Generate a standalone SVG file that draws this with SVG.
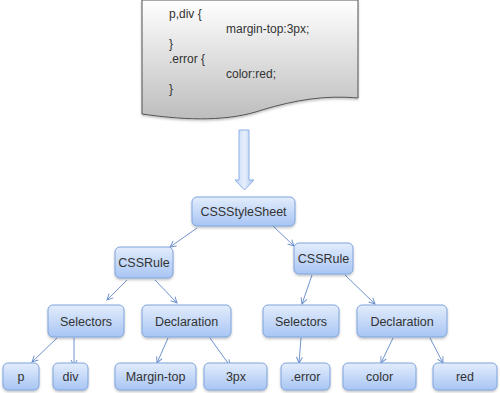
<svg xmlns="http://www.w3.org/2000/svg" width="500" height="393" viewBox="0 0 500 393">
<defs>
<linearGradient id="doc" x1="0" y1="0" x2="0" y2="1">
<stop offset="0" stop-color="#ffffff"/>
<stop offset="1" stop-color="#bdbdbd"/>
</linearGradient>
<linearGradient id="node" x1="0" y1="0" x2="0" y2="1">
<stop offset="0" stop-color="#e3edfc"/>
<stop offset="1" stop-color="#a8c5f4"/>
</linearGradient>
<linearGradient id="barrow" x1="0" y1="0" x2="1" y2="0">
<stop offset="0" stop-color="#c2d6f7"/>
<stop offset="0.5" stop-color="#e6eefc"/>
<stop offset="1" stop-color="#aac6f3"/>
</linearGradient>
<filter id="sh" x="-20%" y="-20%" width="140%" height="150%">
<feDropShadow dx="0" dy="1.5" stdDeviation="1.2" flood-color="#000" flood-opacity="0.25"/>
</filter>
<marker id="ah" markerWidth="8" markerHeight="8" refX="7" refY="4" orient="auto" markerUnits="userSpaceOnUse">
<path d="M1,1 L7,4 L1,7" fill="none" stroke="#6f93cf" stroke-width="1"/>
</marker>
</defs>
<style>
.n rect{fill:url(#node);stroke:#7fa4dc;stroke-width:1;filter:url(#sh)}
.n text{font-family:"Liberation Sans",Arial,sans-serif;font-size:12.5px;fill:#333;text-anchor:middle}
.code{font-family:"Liberation Sans",Arial,sans-serif;font-size:12px;fill:#333}
#connectors line{stroke:#6f93cf;stroke-width:1;marker-end:url(#ah)}
</style>

<g id="document">
<path d="M142,0 H358 V98 C325,95 295,100 262,110 C230,121 190,121 142,114 Z" fill="url(#doc)" stroke="#555" stroke-width="1" filter="url(#sh)"/>
<text class="code" x="169" y="18">p,div {</text>
<text class="code" x="226" y="33">margin-top:3px;</text>
<text class="code" x="169" y="48">}</text>
<text class="code" x="169" y="63">.error {</text>
<text class="code" x="226" y="78">color:red;</text>
<text class="code" x="169" y="93">}</text>
</g>

<g id="block-arrow">
<path d="M239,130 H249 V180 H254 L244.5,190 L235,180 H239 Z" fill="url(#barrow)" stroke="#8db0e4" stroke-width="1"/>
</g>

<g id="connectors">
<line x1="197" y1="228" x2="170" y2="247"/>
<line x1="273" y1="226" x2="294" y2="246"/>
<line x1="127" y1="280" x2="107" y2="300"/>
<line x1="155" y1="280" x2="177" y2="303"/>
<line x1="57" y1="338" x2="32" y2="362"/>
<line x1="74" y1="338" x2="74" y2="366"/>
<line x1="168" y1="338" x2="157" y2="363"/>
<line x1="210" y1="338" x2="230" y2="366"/>
<line x1="312" y1="275" x2="302" y2="304"/>
<line x1="345" y1="275" x2="375" y2="304"/>
<line x1="301" y1="338" x2="299" y2="363"/>
<line x1="393" y1="338" x2="381" y2="363"/>
<line x1="430" y1="338" x2="443" y2="363"/>
</g>

<g id="CSSStyleSheet" class="n"><rect x="192" y="197" width="103" height="29" rx="5"/><text x="243.5" y="216">CSSStyleSheet</text></g>
<g id="CSSRule1" class="n"><rect x="115" y="247" width="58" height="31" rx="5"/><text x="144" y="267">CSSRule</text></g>
<g id="CSSRule2" class="n"><rect x="294" y="243" width="59" height="31" rx="5"/><text x="323.5" y="263">CSSRule</text></g>
<g id="Selectors1" class="n"><rect x="48" y="305" width="76" height="32" rx="5"/><text x="86" y="325.5">Selectors</text></g>
<g id="Declaration1" class="n"><rect x="142" y="305" width="89" height="32" rx="5"/><text x="186.5" y="325.5">Declaration</text></g>
<g id="Selectors2" class="n"><rect x="263" y="305" width="76" height="32" rx="5"/><text x="301" y="325.5">Selectors</text></g>
<g id="Declaration2" class="n"><rect x="357" y="305" width="90" height="32" rx="5"/><text x="402" y="325.5">Declaration</text></g>
<g id="p" class="n"><rect x="3" y="363" width="36" height="27" rx="5"/><text x="21" y="381">p</text></g>
<g id="div" class="n"><rect x="53" y="363" width="35" height="27" rx="5"/><text x="70.5" y="381">div</text></g>
<g id="Margin-top" class="n"><rect x="115" y="363" width="81" height="27" rx="5"/><text x="155.5" y="381">Margin-top</text></g>
<g id="3px" class="n"><rect x="204" y="363" width="63" height="27" rx="5"/><text x="236" y="381">3px</text></g>
<g id="error" class="n"><rect x="281" y="363" width="49" height="27" rx="5"/><text x="305.5" y="381">.error</text></g>
<g id="color" class="n"><rect x="343" y="363" width="73" height="27" rx="5"/><text x="379.5" y="381">color</text></g>
<g id="red" class="n"><rect x="433" y="363" width="64" height="27" rx="5"/><text x="465" y="381">red</text></g>
</svg>
